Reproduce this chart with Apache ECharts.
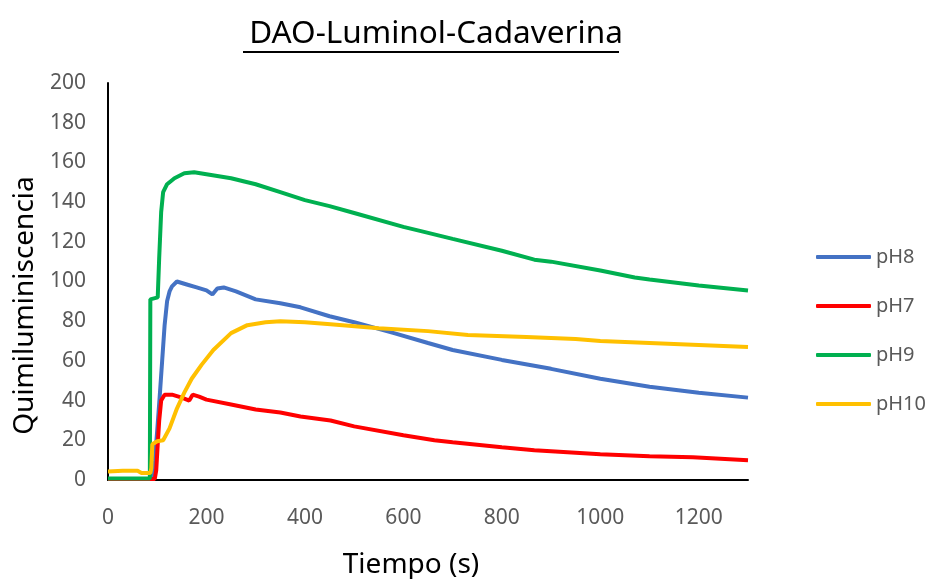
<!DOCTYPE html>
<html>
<head>
<meta charset="utf-8">
<script src="https://cdn.jsdelivr.net/npm/echarts@6/dist/echarts.min.js"></script>
<style>html,body{margin:0;padding:0;background:#fff;}#c{width:931px;height:579px;}</style>
</head>
<body>
<div id="c"></div>
<script>
// ---- data ----
var seriesNames = ['pH8', 'pH7', 'pH9', 'pH10'];
var xTicks = [0, 200, 400, 600, 800, 1000, 1200];
var yTicks = [0, 20, 40, 60, 80, 100, 120, 140, 160, 180, 200];

var t8 = [0, 90, 95, 100, 105, 110, 115, 120, 125, 130, 140, 160, 180, 200, 212, 222, 235, 260, 300, 350, 391, 450, 500, 581, 650, 700, 800, 900, 1000, 1100, 1200, 1300];
var v8 = [0.5, 0.5, 10, 25, 42, 60, 78, 90, 95, 97.5, 100, 98.5, 97, 95.5, 93.5, 96.5, 97, 95, 91, 89, 87, 82.5, 79.5, 74, 69, 65.5, 60.5, 56, 51, 47, 44, 41.5];

var t7 = [0, 95, 98, 101, 104, 108, 115, 130, 150, 165, 172, 185, 200, 250, 300, 350, 391, 452, 500, 600, 663, 700, 800, 866, 900, 1000, 1100, 1188, 1192, 1300];
var v7 = [0.5, 0.5, 5, 18, 30, 40, 43, 43, 41.5, 40, 43, 42, 40.5, 38, 35.5, 34, 32, 30, 27, 22.5, 20, 19, 16.5, 15, 14.5, 13, 12, 11.5, 10.5, 10];

var t9 = [0, 85, 86, 101, 104, 108, 112, 120, 135, 155, 175, 200, 250, 300, 350, 400, 450, 500, 600, 642, 700, 800, 866, 900, 1000, 1070, 1100, 1200, 1300];
var v9 = [0.8, 0.8, 91, 92, 112, 135, 145, 149, 152, 154.5, 155, 154, 152, 149, 145, 141, 138, 134.5, 127.5, 125, 121.5, 115.5, 111, 110, 105.5, 102, 101, 98, 95.5];

var t10 = [0, 30, 60, 68, 86, 88, 90, 100, 112, 125, 140, 155, 170, 190, 214, 250, 283, 320, 350, 400, 452, 550, 650, 731, 850, 950, 1000, 1100, 1200, 1300];
var v10 = [4.3, 4.6, 4.6, 3.5, 3.5, 6, 18, 19.5, 20, 26, 36, 44, 51, 58, 65.5, 74, 78, 79.5, 80, 79.5, 78.5, 76.5, 75, 73, 72, 71, 70, 69, 68, 67];

var colors = ['#4472C4', '#FF0000', '#00B050', '#FFC000'];

function zip(t, v) { return t.map(function (x, i) { return [x, v[i]]; }); }
var allData = [zip(t8, v8), zip(t7, v7), zip(t9, v9), zip(t10, v10)];

var FONT = 'Noto Sans';
var chart = echarts.init(document.getElementById('c'), null, { renderer: 'canvas' });
chart.setOption({
  animation: false,
  backgroundColor: '#fff',
  title: {
    text: 'DAO-Luminol-Cadaverina',
    left: 431, top: 13, textAlign: 'center',
    textStyle: { fontFamily: FONT, fontSize: 31.5, fontWeight: 'normal', color: '#000' }
  },
  graphic: [{
    type: 'line', shape: { x1: 243, y1: 52, x2: 619, y2: 52 },
    style: { stroke: '#000', lineWidth: 2 }
  }],
  legend: {
    orient: 'vertical', left: 811, top: 242, itemGap: 29,
    icon: 'roundRect', itemWidth: 55, itemHeight: 4,
    textStyle: { fontFamily: FONT, fontSize: 20, color: '#595959' },
    data: seriesNames
  },
  grid: { left: 108, top: 83, right: 183, bottom: 99, containLabel: false, outerBoundsMode: 'none' },
  xAxis: {
    type: 'value', min: 0, max: 1300, interval: 200,
    name: 'Tiempo (s)', nameLocation: 'middle', nameGap: 71,
    nameTextStyle: { fontFamily: FONT, fontSize: 28, color: '#000', padding: [0, 34, 0, 0] },
    axisLine: { show: true, lineStyle: { color: '#000', width: 2 } },
    axisTick: { show: false },
    splitLine: { show: false },
    axisLabel: {
      margin: 28, fontFamily: FONT, fontSize: 21, color: '#595959',
      formatter: function (v) { return xTicks.indexOf(v) >= 0 ? String(v) : ''; }
    }
  },
  yAxis: {
    type: 'value', min: 0, max: 200, interval: 20,
    name: 'Quimiluminiscencia', nameLocation: 'middle', nameGap: 66, nameRotate: 90,
    nameTextStyle: { fontFamily: FONT, fontSize: 28, color: '#000', padding: [0, 48, 0, 0] },
    axisLine: { show: true, lineStyle: { color: '#000', width: 2 } },
    axisTick: { show: false },
    splitLine: { show: false },
    axisLabel: {
      margin: 22, fontFamily: FONT, fontSize: 21, color: '#595959',
      formatter: function (v) { return yTicks.indexOf(v) >= 0 ? String(v) : ''; }
    }
  },
  series: seriesNames.map(function (n, i) {
    return {
      name: n, type: 'line', data: allData[i],
      showSymbol: false, symbol: 'none',
      lineStyle: { color: colors[i], width: 4 },
      itemStyle: { color: colors[i] },
      z: 2 + i
    };
  })
});
</script>
</body>
</html>
